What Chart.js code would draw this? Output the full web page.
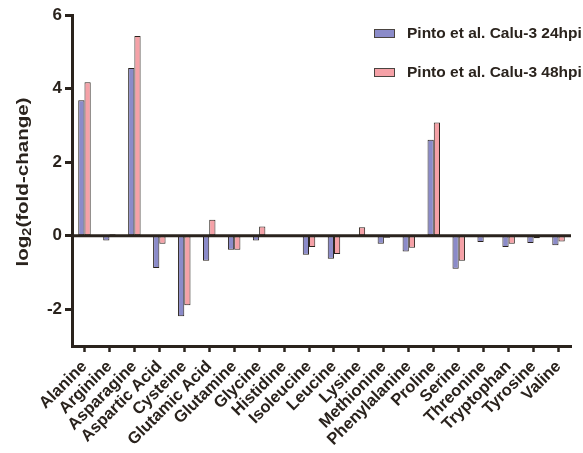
<!doctype html>
<html lang="en">
<head>
<meta charset="utf-8">
<title>Amino acids log2 fold-change</title>
<style>
  html,body{margin:0;padding:0;background:#fff}
  canvas{display:block}
</style>
</head>
<body>
<canvas id="chart" width="583" height="453"></canvas>
<script src="https://cdn.jsdelivr.net/npm/chart.js@4.4.1/dist/chart.umd.min.js"></script>
<script>
const aminoAcids = ['Alanine','Arginine','Asparagine','Aspartic Acid','Cysteine','Glutamic Acid','Glutamine','Glycine','Histidine','Isoleucine','Leucine','Lysine','Methionine','Phenylalanine','Proline','Serine','Threonine','Tryptophan','Tyrosine','Valine'];
const calu3_24hpi = [3.68,-0.13,4.56,-0.88,-2.19,-0.68,-0.38,-0.13,0,-0.52,-0.63,0,-0.22,-0.43,2.61,-0.90,-0.17,-0.31,-0.20,-0.26];
const calu3_48hpi = [4.17,0.04,5.43,-0.22,-1.89,0.43,-0.38,0.25,0,-0.31,-0.50,0.23,-0.06,-0.33,3.08,-0.68,-0.04,-0.22,-0.07,-0.16];
const seriesNames = ['Pinto et al. Calu-3 24hpi','Pinto et al. Calu-3 48hpi'];
const yTicks = [-2,0,2,4,6];

const INK = '#2a231d';
const BLUE = '#8b8bc9';
const PINK = '#f5a1a7';
const FONT = "'Liberation Sans', Arial, sans-serif";

// zero line on top of bars
const zeroLine = {
  id: 'zeroLine',
  afterDatasetsDraw(chart){
    const {ctx, chartArea:a, scales:{y}} = chart;
    const py = y.getPixelForValue(0);
    ctx.save();
    ctx.strokeStyle = INK; ctx.lineWidth = 3;
    ctx.beginPath(); ctx.moveTo(a.left, py); ctx.lineTo(a.right, py); ctx.stroke();
    ctx.restore();
  }
};

// y title with real subscript
const yTitle = {
  id: 'yTitle',
  afterDraw(chart){
    const ctx = chart.ctx;
    ctx.save();
    ctx.translate(23, 182);
    ctx.rotate(-Math.PI/2);
    ctx.fillStyle = INK;
    ctx.textBaseline = 'middle';
    const big = 'bold 17px ' + FONT, small = 'bold 12px ' + FONT;
    ctx.font = big; const w1 = ctx.measureText('log').width;
    ctx.font = small; const w2 = ctx.measureText('2').width;
    ctx.font = big; const w3 = ctx.measureText('(fold-change)').width;
    const total = w1 + w2 + w3;
    ctx.scale(169 / total, 1);
    let x = -total/2;
    ctx.textAlign = 'left';
    ctx.font = big; ctx.fillText('log', x, 0); x += w1;
    ctx.font = small; ctx.fillText('2', x, 5); x += w2;
    ctx.font = big; ctx.fillText('(fold-change)', x, 0);
    ctx.restore();
  }
};

// legend inside plot, top right
const boxLegend = {
  id: 'boxLegend',
  afterDraw(chart){
    const ctx = chart.ctx;
    ctx.save();
    ctx.font = 'bold 15.5px ' + FONT;
    ctx.textBaseline = 'middle';
    chart.data.datasets.forEach((ds, i) => {
      const y = 29 + i*39;
      ctx.fillStyle = ds.backgroundColor;
      ctx.fillRect(374, y, 21, 9);
      ctx.strokeStyle = '#4a4440'; ctx.lineWidth = 1;
      ctx.strokeRect(374.5, y + 0.5, 20, 8);
      ctx.fillStyle = INK;
      ctx.fillText(ds.label, 407, y + 5);
    });
    ctx.restore();
  }
};

new Chart(document.getElementById('chart'), {
  type: 'bar',
  data: {
    labels: aminoAcids,
    datasets: [
      { label: seriesNames[0], data: calu3_24hpi, backgroundColor: BLUE },
      { label: seriesNames[1], data: calu3_48hpi, backgroundColor: PINK }
    ]
  },
  options: {
    responsive: false,
    animation: false,
    layout: { padding: { left: 0, right: 12, top: 15, bottom: 0 } },
    datasets: { bar: { categoryPercentage: 0.5, barPercentage: 1, borderWidth: 1, borderColor: INK, borderSkipped: false } },
    plugins: { legend: { display: false }, tooltip: { enabled: false } },
    scales: {
      x: {
        offset: true,
        grid: { offset: false, drawOnChartArea: false, tickLength: 6, tickWidth: 2.5, tickColor: INK },
        border: { width: 3, color: INK },
        ticks: { autoSkip: false, minRotation: 45, maxRotation: 45, padding: 5, color: INK, font: { family: FONT, size: 16.5, weight: 'bold' } },
        afterFit(s){ s.height = 107; }
      },
      y: {
        min: -3, max: 6,
        afterBuildTicks(s){ s.ticks = yTicks.map(v => ({ value: v })); },
        grid: { drawOnChartArea: false, tickLength: 7, tickWidth: 3, tickColor: INK },
        border: { width: 3, color: INK },
        ticks: { padding: 3, color: INK, font: { family: FONT, size: 17, weight: 'bold' } },
        afterFit(s){ s.width = 72; }
      }
    }
  },
  plugins: [zeroLine, yTitle, boxLegend]
});
</script>
</body>
</html>
